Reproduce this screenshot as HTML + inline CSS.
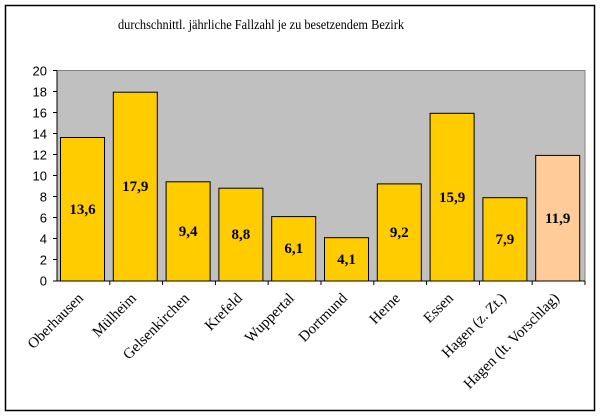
<!DOCTYPE html>
<html><head><meta charset="utf-8"><style>body{margin:0;background:#fff}svg{display:block}</style></head><body>
<svg width="601" height="417" xmlns="http://www.w3.org/2000/svg" font-family="Liberation Serif, serif">
<rect x="5.5" y="5.5" width="589" height="405" fill="#fff" stroke="#000" stroke-width="1.5"/>
<text x="261" y="29" font-size="14" text-anchor="middle" textLength="286" lengthAdjust="spacingAndGlyphs">durchschnittl. jährliche Fallzahl je zu besetzendem Bezirk</text>
<rect x="57" y="70.5" width="528" height="210.5" fill="#c0c0c0" stroke="#808080" stroke-width="1"/>
<g font-family="Liberation Sans, sans-serif" font-size="13" text-anchor="end">
<text x="47" y="285.5">0</text><text x="47" y="264.5">2</text><text x="47" y="243.5">4</text><text x="47" y="222.5">6</text><text x="47" y="201.5">8</text><text x="47" y="180.5">10</text><text x="47" y="159.5">12</text><text x="47" y="138.5">14</text><text x="47" y="117.5">16</text><text x="47" y="96.5">18</text><text x="47" y="75.5">20</text>
</g>
<g stroke="#000" stroke-width="1">
<line x1="57" y1="70.5" x2="57" y2="281"/>
<line x1="53" y1="281" x2="585" y2="281"/>
<line x1="53" y1="70.5" x2="57" y2="70.5"/><line x1="53" y1="91.5" x2="57" y2="91.5"/><line x1="53" y1="112.5" x2="57" y2="112.5"/><line x1="53" y1="133.5" x2="57" y2="133.5"/><line x1="53" y1="154.5" x2="57" y2="154.5"/><line x1="53" y1="175.5" x2="57" y2="175.5"/><line x1="53" y1="196.5" x2="57" y2="196.5"/><line x1="53" y1="217.5" x2="57" y2="217.5"/><line x1="53" y1="238.5" x2="57" y2="238.5"/><line x1="53" y1="259.5" x2="57" y2="259.5"/>
<line x1="109.8" y1="281" x2="109.8" y2="285"/><line x1="162.6" y1="281" x2="162.6" y2="285"/><line x1="215.4" y1="281" x2="215.4" y2="285"/><line x1="268.2" y1="281" x2="268.2" y2="285"/><line x1="321" y1="281" x2="321" y2="285"/><line x1="373.8" y1="281" x2="373.8" y2="285"/><line x1="426.6" y1="281" x2="426.6" y2="285"/><line x1="479.4" y1="281" x2="479.4" y2="285"/><line x1="532.2" y1="281" x2="532.2" y2="285"/><line x1="585" y1="281" x2="585" y2="285"/>
</g>
<g stroke="#000" stroke-width="1" fill="#ffcc00">
<rect x="60.5" y="137.5" width="44" height="143.5"/>
<rect x="113.3" y="92.2" width="44" height="188.8"/>
<rect x="166.1" y="181.8" width="44" height="99.2"/>
<rect x="218.9" y="188.2" width="44" height="92.8"/>
<rect x="271.7" y="216.6" width="44" height="64.4"/>
<rect x="324.5" y="237.7" width="44" height="43.3"/>
<rect x="377.3" y="183.9" width="44" height="97.1"/>
<rect x="430.1" y="113.3" width="44" height="167.7"/>
<rect x="482.9" y="197.7" width="44" height="83.3"/>
<rect x="535.7" y="155.4" width="44" height="125.6" fill="#ffcc99"/>
</g>
<g font-size="15" font-weight="bold" text-anchor="middle">
<text x="82.5" y="214">13,6</text><text x="135.3" y="191">17,9</text><text x="188.1" y="236">9,4</text><text x="240.9" y="239">8,8</text><text x="293.7" y="253">6,1</text><text x="346.5" y="264">4,1</text><text x="399.3" y="237">9,2</text><text x="452.1" y="202">15,9</text><text x="504.9" y="244">7,9</text><text x="557.7" y="223">11,9</text>
</g>
<g font-size="15" text-anchor="end">
<text transform="translate(84,299) rotate(-45)">Oberhausen</text>
<text transform="translate(137,299) rotate(-45)">Mülheim</text>
<text transform="translate(190,299) rotate(-45)">Gelsenkirchen</text>
<text transform="translate(243,299) rotate(-45)">Krefeld</text>
<text transform="translate(295,299) rotate(-45)">Wuppertal</text>
<text transform="translate(348,299) rotate(-45)">Dortmund</text>
<text transform="translate(401,299) rotate(-45)">Herne</text>
<text transform="translate(454,299) rotate(-45)">Essen</text>
<text transform="translate(507,299) rotate(-45)">Hagen (z. Zt.)</text>
<text transform="translate(560,299) rotate(-45)">Hagen (lt. Vorschlag)</text>
</g>
</svg>
</body></html>
